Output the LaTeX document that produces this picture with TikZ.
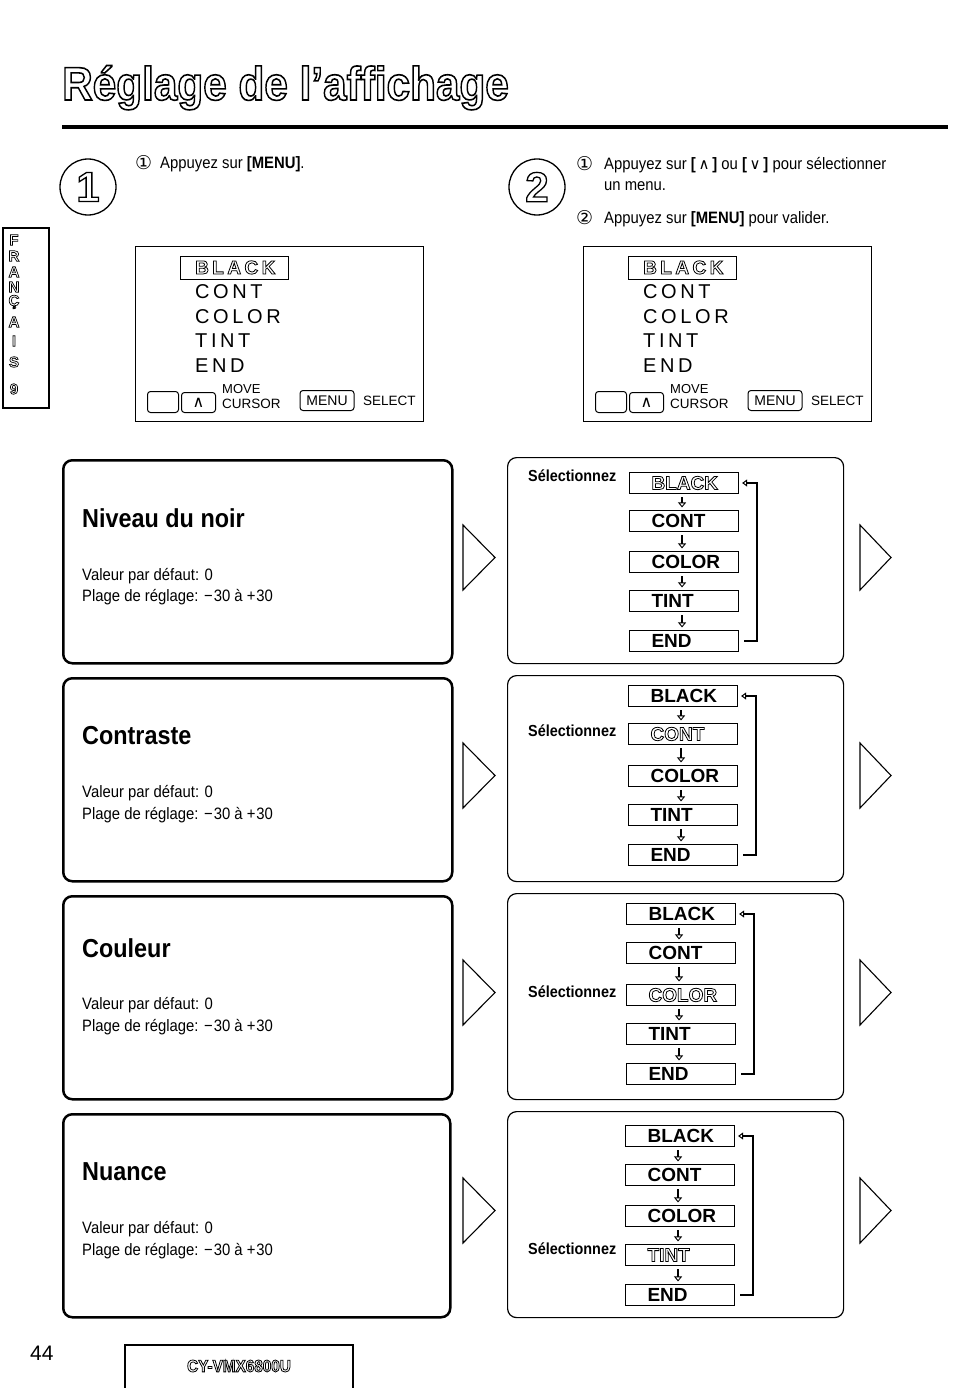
\documentclass[tikz,border=0pt]{standalone}
\usepackage{fontspec}
\setmainfont{Liberation Sans}
\newfontfamily\cond[FakeStretch=0.9]{Liberation Sans}
\newfontfamily\spaced[LetterSpace=18]{Liberation Sans}
\newfontfamily\dejavu{DejaVu Sans}
\usetikzlibrary{arrows.meta}
\newcommand{\fsz}[1]{\fontsize{#1}{#1}\selectfont}
\newcommand{\hollow}[2][1]{\special{pdf:literal direct #1 w 1 Tr}#2\special{pdf:literal direct 0 Tr}}
\tikzset{
  txt/.style={anchor=base west,inner sep=0pt},
  item/.style={draw,line width=1.1pt,minimum width=109pt,minimum height=21pt,anchor=west,inner sep=0pt,font=\fsz{19}\bfseries},
  darr/.style={line width=1.3pt,-{Triangle[open,line width=0.9pt,length=5pt,width=8pt]},shorten <=3pt,shorten >=2.5pt},
  loopline/.style={line width=2.4pt,-{Triangle[open,line width=1pt,length=5pt,width=7pt]},shorten <=5pt,shorten >=3pt},
  lpanel/.style={draw,line width=2.5pt,rounded corners=9pt,minimum width=389pt,minimum height=203pt,anchor=north west,inner sep=0pt},
  rpanel/.style={draw,line width=1.2pt,rounded corners=9pt,minimum width=336pt,minimum height=206pt,anchor=north west,inner sep=0pt},
  btn/.style={draw,line width=1pt,rounded corners=3pt,inner sep=0pt},
  tri/.style={line width=1.1pt,line join=miter},
}
\newcommand{\itm}[4]{\node[item] (#1) at (#2,#3) {\makebox[109pt][l]{\hspace{22pt}#4}};}
\newcommand{\screenbox}[2]{%
\begin{scope}[xshift=#1pt]
\node[draw,line width=1.1pt,minimum width=288pt,minimum height=175pt,anchor=north west,inner sep=0pt] (#2scr) at (135,246) {};
\node[draw,line width=1.1pt,minimum width=108pt,minimum height=23pt,anchor=north west,inner sep=0pt] (#2blk) at (180,256) {};
\node[txt] (#2blkt) at (195,274) {\fsz{19}\spaced\bfseries\hollow[0.8]{BLACK}};
\node[txt] (#2cont) at (195,298.5) {\fsz{20}\spaced CONT};
\node[txt] (#2col) at (195,323.5) {\fsz{20}\spaced COLOR};
\node[txt] (#2tint) at (195,347.5) {\fsz{20}\spaced TINT};
\node[txt] (#2end) at (195,372.5) {\fsz{20}\spaced END};
\node[btn,minimum width=31pt,minimum height=21pt,anchor=north west] (#2b1) at (147,391) {};
\node[btn,minimum width=34pt,minimum height=20pt,anchor=north west] (#2b2) at (181,392) {\fsz{16}\dejavu ∧};
\node[anchor=west,inner sep=0pt] (#2move) at (222,389) {\fsz{13}MOVE};
\node[anchor=west,inner sep=0pt] (#2curs) at (222,404) {\fsz{13.5}CURSOR};
\node[btn,minimum width=54pt,minimum height=20pt] (#2menu) at (327,400.5) {\fsz{14}MENU};
\node[anchor=west,inner sep=0pt] (#2sel) at (363,401) {\fsz{13.5}SELECT};
\end{scope}}
\begin{document}
\begin{tikzpicture}[x=1pt,y=-1pt]
\fill[white] (0,0) rectangle (954,1388);
\useasboundingbox (0,0) rectangle (954,1388);
% title
\node[txt] (title) at (62,100) {\fsz{47}\bfseries\scalebox{0.9}[1]{\hollow[1.6]{Réglage de l’affichage}}};
\draw[line width=4pt] (62,127) -- (948,127);
% step circles
\node[circle,draw,line width=1.3pt,minimum size=56pt,inner sep=0pt] (c1) at (88,187) {\fsz{42}\bfseries\hollow[1.3]{1}};
\node[circle,draw,line width=1.3pt,minimum size=56pt,inner sep=0pt] (c2) at (537,187) {\fsz{42}\bfseries\hollow[1.3]{2}};
% step texts
\node[txt] (s1n) at (135,170) {\fsz{19}\dejavu ①};
\node[txt] (s1t) at (160,169) {\fsz{16.5}\cond Appuyez sur \textbf{[MENU]}.};
\node[txt] (s2n) at (576,171) {\fsz{19}\dejavu ①};
\node[txt] (s2t) at (604,170) {\fsz{16.5}\cond Appuyez sur \textbf{[}\,{\dejavu\fsz{15}∧}\,\textbf{]} ou \textbf{[}\,{\dejavu\fsz{15}∨}\,\textbf{]} pour sélectionner};
\node[txt] (s2u) at (604,191) {\fsz{16.5}\cond un menu.};
\node[txt] (s3n) at (576,225) {\fsz{19}\dejavu ②};
\node[txt] (s3t) at (604,224) {\fsz{16.5}\cond Appuyez sur \textbf{[MENU]} pour valider.};
% side tab
\draw[line width=1.2pt] (3,228) rectangle (49,408);
\foreach \l/\yy [count=\i] in {F/240,R/256,A/272,N/287,Ç/302,A/322,I/341,S/362,9/389}{
  \node[inner sep=0pt] (tab\i) at (14,\yy) {\fsz{15}\bfseries\hollow[0.7]{\l}};
}
% screens
\screenbox{0}{A}
\screenbox{448}{B}
% left panels
\node[lpanel] (L1) at (62,459) {};
\node[lpanel] (L2) at (62,677) {};
\node[lpanel] (L3) at (62,895) {};
\node[lpanel,minimum width=387pt] (L4) at (62,1113) {};
\newcommand{\plage}{Plage de réglage: −\kern1pt30 à +\kern1pt30}
\node[txt] (L1h) at (82,527) {\fsz{26}\cond\bfseries Niveau du noir};
\node[txt] (L1a) at (82,580) {\fsz{16.5}\cond Valeur par défaut: 0};
\node[txt] (L1b) at (82,601) {\fsz{16.5}\cond \plage};
\node[txt] (L2h) at (82,744) {\fsz{26}\cond\bfseries Contraste};
\node[txt] (L2a) at (82,797) {\fsz{16.5}\cond Valeur par défaut: 0};
\node[txt] (L2b) at (82,819) {\fsz{16.5}\cond \plage};
\node[txt] (L3h) at (82,957) {\fsz{26}\cond\bfseries Couleur};
\node[txt] (L3a) at (82,1009) {\fsz{16.5}\cond Valeur par défaut: 0};
\node[txt] (L3b) at (82,1031) {\fsz{16.5}\cond \plage};
\node[txt] (L4h) at (82,1180) {\fsz{26}\cond\bfseries Nuance};
\node[txt] (L4a) at (82,1233) {\fsz{16.5}\cond Valeur par défaut: 0};
\node[txt] (L4b) at (82,1255) {\fsz{16.5}\cond \plage};
% triangles
\foreach \yt in {525,743,960,1178}{
  \draw[tri] (463,\yt) -- (463,\yt+65) -- (495,\yt+32.5) -- cycle;
  \draw[tri] (860,\yt) -- (860,\yt+65) -- (891,\yt+32.5) -- cycle;
}
% right panels
\node[rpanel] (R1) at (507,457) {};
\node[rpanel] (R2) at (507,675) {};
\node[rpanel] (R3) at (507,893) {};
\node[rpanel] (R4) at (507,1111) {};
% panel 1
\node[txt] (R1s) at (528,481) {\fsz{16}\cond\bfseries Sélectionnez};
\itm{a1}{629}{483}{\hollow[0.8]{BLACK}}
\itm{a2}{629}{521}{CONT}
\itm{a3}{629}{562}{COLOR}
\itm{a4}{629}{601}{TINT}
\itm{a5}{629}{641}{END}
% panel 2
\node[txt] (R2s) at (528,736) {\fsz{16}\cond\bfseries Sélectionnez};
\itm{b1}{628}{696}{BLACK}
\itm{b2}{628}{734}{\hollow[0.8]{CONT}}
\itm{b3}{628}{776}{COLOR}
\itm{b4}{628}{815}{TINT}
\itm{b5}{628}{855}{END}
% panel 3
\node[txt] (R3s) at (528,997) {\fsz{16}\cond\bfseries Sélectionnez};
\itm{c1}{626}{914}{BLACK}
\itm{c2}{626}{953}{CONT}
\itm{c3}{626}{995}{\hollow[0.8]{COLOR}}
\itm{c4}{626}{1034}{TINT}
\itm{c5}{626}{1074}{END}
% panel 4
\node[txt] (R4s) at (528,1254) {\fsz{16}\cond\bfseries Sélectionnez};
\itm{d1}{625}{1136}{BLACK}
\itm{d2}{625}{1175}{CONT}
\itm{d3}{625}{1216}{COLOR}
\itm{d4}{625}{1255}{\hollow[0.8]{TINT}}
\itm{d5}{625}{1295}{END}
% arrows
\foreach \p in {a,b,c,d}{
  \foreach \i [evaluate=\i as \j using int(\i+1)] in {1,2,3,4}{
    \draw[darr] ([xshift=-2pt]\p\i.south) -- ([xshift=-2pt]\p\j.north);
  }
  \draw[loopline] (\p5.east) -- ++(18,0) |- (\p1.east);
}
% footer
\node[txt] (pg) at (30,1360) {\fsz{21}44};
\draw[line width=1.2pt] (125,1388) -- (125,1345) -- (353,1345) -- (353,1388);
\node[inner sep=0pt] (model) at (239,1366) {\fsz{17}\cond\bfseries\hollow[0.8]{CY-VMX6800U}};
\end{tikzpicture}
\end{document}
